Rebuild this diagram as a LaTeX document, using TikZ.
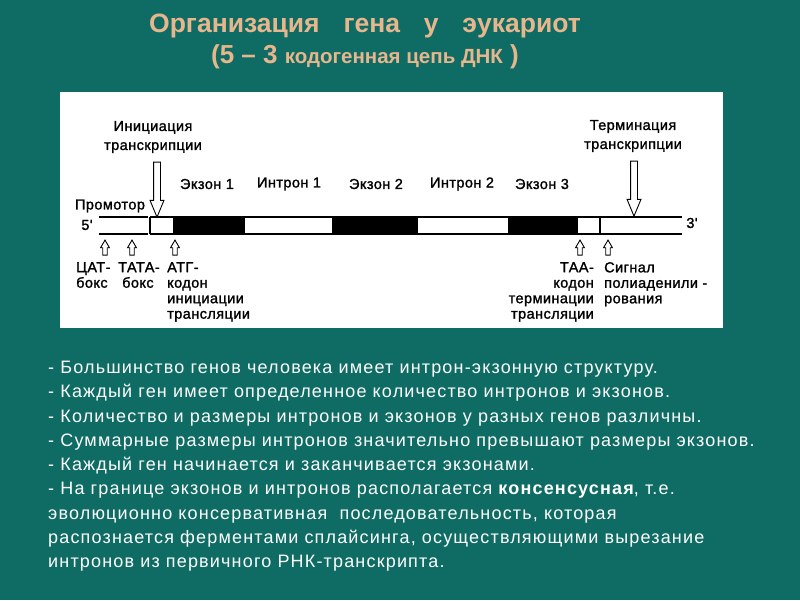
\documentclass[tikz,border=0pt]{standalone}
\usepackage{fontspec}
\setmainfont{Liberation Sans}
\newfontfamily\spacedfont[LetterSpace=6.5]{Liberation Sans}
\newfontfamily\diafont[FakeBold=1.4,LetterSpace=3]{Liberation Sans}
\usetikzlibrary{shapes.arrows}
\definecolor{bgc}{RGB}{14,108,100}
\definecolor{titlec}{RGB}{232,182,140}
\begin{document}
\begin{tikzpicture}[x=1pt,y=-1pt,
  lbl/.style={font=\diafont\fontsize{14.5}{16}\selectfont, inner sep=0pt, text=black},
  bigarrow/.style={shape=single arrow, draw=black, fill=white, line width=0.9pt,
    minimum height=55pt, inner sep=3pt, single arrow head extend=3.5pt,
    single arrow tip angle=45, shape border rotate=270},
  smallarrow/.style={shape=single arrow, draw=black, fill=white, line width=0.9pt,
    minimum height=15pt, inner sep=1.8pt, single arrow head extend=2.2pt,
    single arrow tip angle=60, shape border rotate=90},
  bullet/.style={anchor=base west, inner sep=0pt, text=white, font=\spacedfont\fontsize{18}{20}\selectfont},
  dna/.style={line width=1.1pt, draw=black}]
\useasboundingbox (0,0) rectangle (800,600);
\fill[bgc] (0,0) rectangle (800,600);
% title
\node[anchor=base, text=titlec, font=\bfseries\fontsize{26.5}{28}\selectfont, inner sep=0pt] (title1) at (365,32)
  {Организация\hspace{0.9em}гена\hspace{0.9em}у\hspace{0.9em}эукариот};
\node[anchor=base, text=titlec, inner sep=0pt] (title2) at (365,63)
  {\bfseries\fontsize{26}{28}\selectfont (5 – 3 {\fontsize{20.5}{22}\selectfont кодогенная цепь ДНК} )};
% white panel
\fill[white] (60,92) rectangle (723,328);
% DNA
\draw[dna] (99,217) -- (148,217);
\draw[dna] (99,234) -- (148,234);
\fill[black] (173,217) rectangle (245,234);
\fill[black] (332,217) rectangle (418,234);
\fill[black] (508,217) rectangle (578,234);
\draw[dna] (150,217) -- (682,217);
\draw[dna] (150,234) -- (682,234);
\draw[dna] (150,217) -- (150,234);
\draw[dna] (600,217) -- (600,234);
\node[lbl] (p5) at (87,225) {5'};
\node[lbl] (p3) at (692,223) {3'};
% labels above
\node[lbl] (prom) at (110,206) {Промотор};
\node[lbl] (ex1) at (207,184) {Экзон 1};
\node[lbl] (in1) at (289,184) {Интрон 1};
\node[lbl] (ex2) at (376,184) {Экзон 2};
\node[lbl] (in2) at (462,184) {Интрон 2};
\node[lbl] (ex3) at (542,184) {Экзон 3};
\node[lbl, align=center, font=\diafont\fontsize{14.5}{19}\selectfont] (init) at (153,137) {Инициация\\транскрипции};
\node[lbl, align=center, font=\diafont\fontsize{14.5}{19}\selectfont] (term) at (633,136) {Терминация\\транскрипции};
\node[bigarrow] (ainit) at (157,185.5) {};
\node[bigarrow] (aterm) at (634,184.5) {};
% small up arrows
\node[smallarrow] (a1) at (105,249.5) {};
\node[smallarrow] (a2) at (132,249.5) {};
\node[smallarrow] (a3) at (175,249.5) {};
\node[smallarrow] (a4) at (580,249.5) {};
\node[smallarrow] (a5) at (608,249.5) {};
% labels below
\node[lbl, anchor=north west, align=left, font=\diafont\fontsize{14.5}{15.5}\selectfont] (cat) at (76,262) {ЦАТ-\\бокс};
\node[lbl, anchor=north west, align=left, font=\diafont\fontsize{14.5}{15.5}\selectfont] (tata) at (118,262) {ТАТА-\\\hspace{4pt}бокс};
\node[lbl, anchor=north west, align=left, font=\diafont\fontsize{14.5}{15.5}\selectfont] (atg) at (167,262) {АТГ-\\кодон\\инициации\\трансляции};
\node[lbl, anchor=north east, align=right, font=\diafont\fontsize{14.5}{15.5}\selectfont] (taa) at (594,262) {ТАА-\\кодон\\терминации\\трансляции};
\node[lbl, anchor=north west, align=left, font=\diafont\fontsize{14.5}{15.5}\selectfont] (sig) at (604,262) {Сигнал\\полиаденили -\\рования};
% bullets
\node[bullet] (b1) at (48,373.5) {- Большинство генов человека имеет интрон-экзонную структуру.};
\node[bullet] (b2) at (48,397.8) {- Каждый ген имеет определенное количество интронов и экзонов.};
\node[bullet] (b3) at (48,422) {- Количество и размеры интронов и экзонов у разных генов различны.};
\node[bullet] (b4) at (48,446.3) {- Суммарные размеры интронов значительно превышают размеры экзонов.};
\node[bullet] (b5) at (48,470.5) {- Каждый ген начинается и заканчивается экзонами.};
\node[bullet] (b6) at (48,494.8) {- На границе экзонов и интронов располагается {\bfseries консенсусная}, т.е.};
\node[bullet] (b7) at (48,519) {эволюционно консервативная\ \ последовательность, которая};
\node[bullet] (b8) at (48,543.2) {распознается ферментами сплайсинга, осуществляющими вырезание};
\node[bullet] (b9) at (48,567.5) {интронов из первичного РНК-транскрипта.};
\end{tikzpicture}
\end{document}
